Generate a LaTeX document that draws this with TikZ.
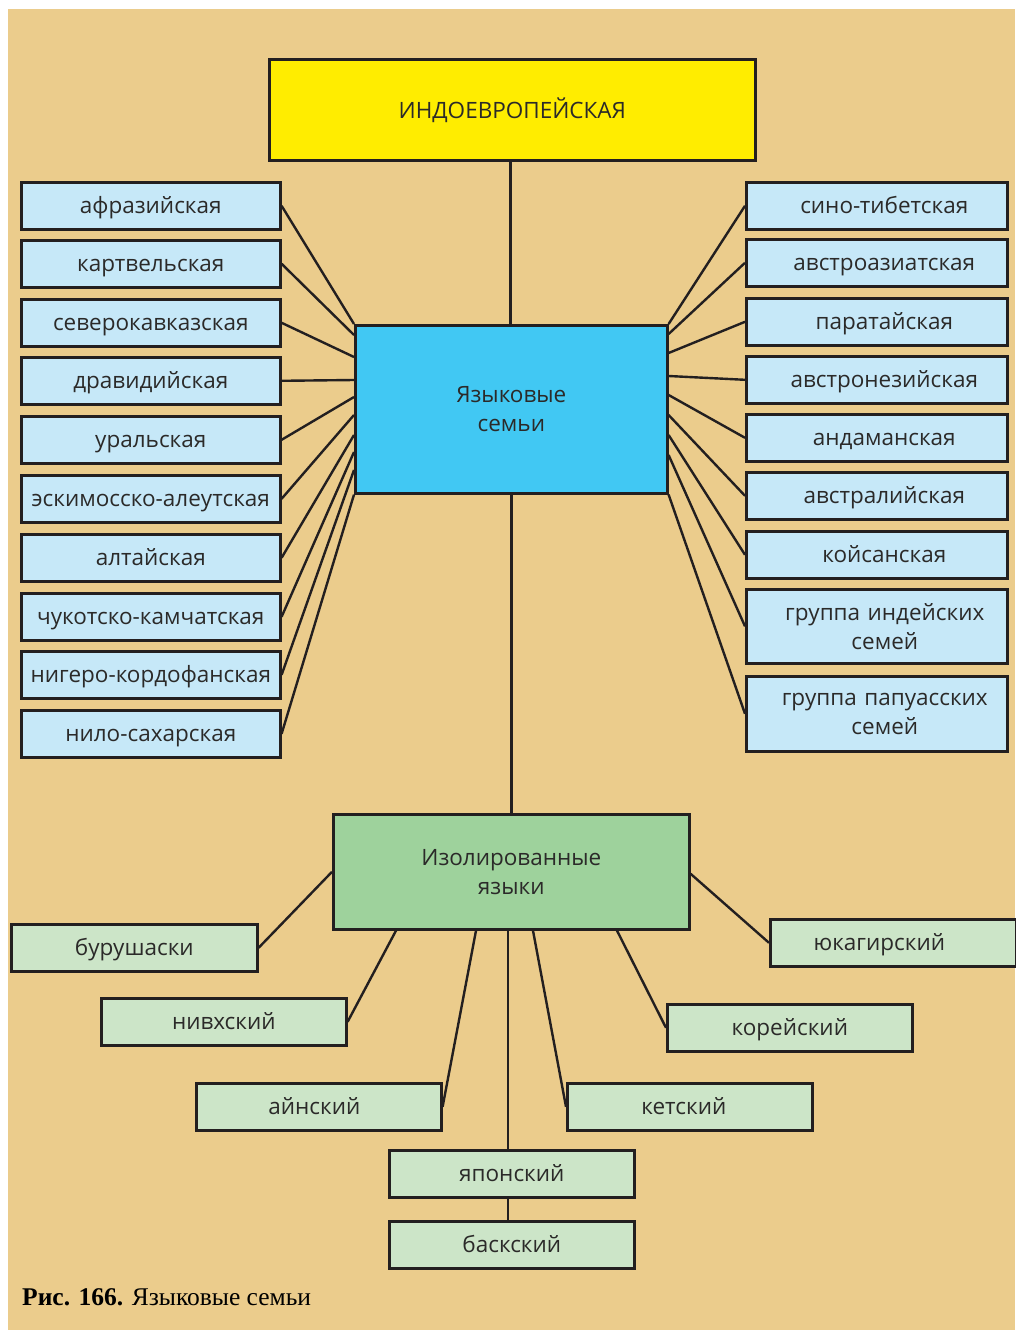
\documentclass[tikz,border=0pt]{standalone}
\usepackage{fontspec}
\setmainfont{Open Sans}
\newfontfamily\capfont{Liberation Serif}
\definecolor{beige}{HTML}{EBCC8C}
\definecolor{yel}{HTML}{FFED00}
\definecolor{blu}{HTML}{41C8F3}
\definecolor{lblu}{HTML}{C6E8F8}
\definecolor{grn}{HTML}{9ED29C}
\definecolor{lgrn}{HTML}{CCE5C8}
\definecolor{linec}{HTML}{231F20}
\definecolor{txt}{HTML}{2B2A29}
\begin{document}
\begin{tikzpicture}[x=1pt,y=-1pt,
  box/.style={draw=linec, line width=2.6pt, inner sep=0pt, anchor=north west, align=center,
    text=txt, font=\fontsize{22.5}{29}\selectfont},
  one/.style={text height=17pt, text depth=2pt},
  shr/.style={execute at begin node={\leftskip=#1 plus 1fil\rightskip=0pt plus 1fil\parfillskip=0pt\relax}},
  shl/.style={execute at begin node={\leftskip=0pt plus 1fil\rightskip=#1 plus 1fil\parfillskip=0pt\relax}},
  lbox/.style={box, one, fill=lblu, minimum width=259pt, minimum height=47pt, text width=259pt},
  rbox/.style={box, one, fill=lblu, minimum width=261pt, minimum height=47pt, text width=261pt, shr=15pt},
  rbox2/.style={box, fill=lblu, minimum width=261pt, text width=261pt, shr=16pt},
  gbox/.style={box, one, fill=lgrn, minimum width=245pt, minimum height=47pt, text width=245pt},
  conn/.style={draw=linec, line width=2.4pt}]
\useasboundingbox (0,0) rectangle (1015,1330);
\fill[white] (0,0) rectangle (1015,1330);
\fill[beige] (8,9) rectangle (1015,1330);

% main boxes
\node[box, fill=yel, minimum width=486pt, minimum height=101pt] (yellow) at (268,58) {ИНДОЕВРОПЕЙСКАЯ};
\node[box, fill=blu, minimum width=312pt, minimum height=168pt] (blue) at (354,324) {Языковые\\семьи};
\node[box, fill=grn, minimum width=356pt, minimum height=115pt] (green) at (332,813) {Изолированные\\языки};

% left boxes
\node[lbox] (la) at (20,181) {афразийская};
\node[lbox] (lb) at (20,239) {картвельская};
\node[lbox] (lc) at (20,298) {северокавказская};
\node[lbox] (ld) at (20,356) {дравидийская};
\node[lbox] (le) at (20,415) {уральская};
\node[lbox] (lf) at (20,474) {эскимосско-алеутская};
\node[lbox] (lg) at (20,533) {алтайская};
\node[lbox] (lh) at (20,592) {чукотско-камчатская};
\node[lbox] (li) at (20,650) {нигеро-кордофанская};
\node[lbox] (lj) at (20,709) {нило-сахарская};

% right boxes
\node[rbox] (ra) at (745,181) {сино-тибетская};
\node[rbox] (rb) at (745,238) {австроазиатская};
\node[rbox] (rc) at (745,297) {паратайская};
\node[rbox] (rd) at (745,355) {австронезийская};
\node[rbox] (re) at (745,413) {андаманская};
\node[rbox] (rf) at (745,471) {австралийская};
\node[rbox] (rg) at (745,530) {койсанская};
\node[rbox2, minimum height=74pt] (rh) at (745,588) {группа индейских\\семей};
\node[rbox2, minimum height=75pt] (ri) at (745,675) {группа папуасских\\семей};

% isolated languages
\node[gbox, minimum width=246pt, text width=246pt] (burush) at (10,923) {бурушаски};
\node[gbox, minimum width=246pt, text width=246pt, shl=28pt] (yukag) at (769,918) {юкагирский};
\node[gbox] (nivkh) at (100,997) {нивхский};
\node[gbox] (korea) at (666,1003) {корейский};
\node[gbox, shl=9pt] (ainu) at (195,1082) {айнский};
\node[gbox, shl=12pt] (ket) at (566,1082) {кетский};
\node[gbox] (japan) at (388,1149) {японский};
\node[gbox] (basque) at (388,1220) {баскский};

% connectors main
\draw[conn] ([xshift=-2pt]yellow.south) -- ([xshift=-2pt]yellow.south |- blue.north);
\draw[conn] (blue.south) -- (green.north);

% left connectors
\draw[conn] (la.east) -- (blue.north west);
\draw[conn] (lb.east) -- ([yshift=-11pt]blue.north west);
\draw[conn] (lc.east) -- ([yshift=-33pt]blue.north west);
\draw[conn] (ld.east) -- ([yshift=-56pt]blue.north west);
\draw[conn] (le.east) -- ([yshift=-73pt]blue.north west);
\draw[conn] (lf.east) -- ([yshift=-91pt]blue.north west);
\draw[conn] (lg.east) -- ([yshift=-111pt]blue.north west);
\draw[conn] (lh.east) -- ([yshift=-128pt]blue.north west);
\draw[conn] (li.east) -- ([yshift=-146pt]blue.north west);
\draw[conn] (lj.east) -- (blue.south west);

% right connectors
\draw[conn] (ra.west) -- (blue.north east);
\draw[conn] (rb.west) -- ([yshift=-10pt]blue.north east);
\draw[conn] (rc.west) -- ([yshift=-29pt]blue.north east);
\draw[conn] (rd.west) -- ([yshift=-52pt]blue.north east);
\draw[conn] (re.west) -- ([yshift=-71pt]blue.north east);
\draw[conn] (rf.west) -- ([yshift=-91pt]blue.north east);
\draw[conn] (rg.west) -- ([yshift=-111pt]blue.north east);
\draw[conn] (rh.west) -- ([yshift=-131pt]blue.north east);
\draw[conn] (ri.west) -- (blue.south east);

% isolated connectors
\draw[conn] (burush.east) -- (green.west);
\draw[conn] (yukag.west) -- ([yshift=-2pt]green.east);
\draw[conn] (nivkh.east) -- ([xshift=64pt]green.south west);
\draw[conn] (ainu.east) -- ([xshift=144pt]green.south west);
\draw[conn] ([xshift=-4pt]japan.north) -- ([xshift=-4pt]japan.north |- green.south);
\draw[conn] (ket.west) -- ([xshift=201pt]green.south west);
\draw[conn] (korea.west) -- ([xshift=285pt]green.south west);
\draw[conn] ([xshift=-4pt]basque.north) -- ([xshift=-4pt]japan.south);

% caption
\node[anchor=base west, inner sep=0pt, text=black, font=\capfont\fontsize{25.5}{30}\selectfont] (caption) at (22,1305) {\textbf{Рис. 166.} Языковые семьи};
\end{tikzpicture}
\end{document}
